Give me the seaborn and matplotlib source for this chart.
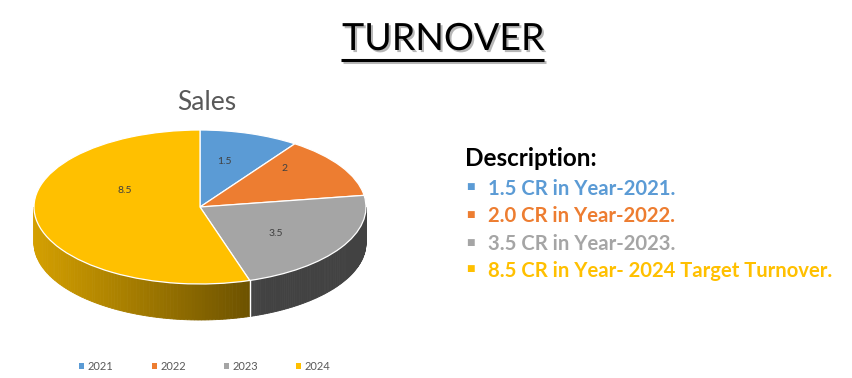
import numpy as np
import matplotlib
matplotlib.use('Agg')
import matplotlib.pyplot as plt
import matplotlib.patheffects as pe
from matplotlib.patches import Patch
import seaborn as sns

# data
years = ['2021', '2022', '2023', '2024']
sales = [1.5, 2, 3.5, 8.5]
value_labels = ['1.5', '2', '3.5', '8.5']
desc_lines = ['1.5 CR in Year-2021.', '2.0 CR in Year-2022.',
              '3.5 CR in Year-2023.', '8.5 CR in Year- 2024 Target Turnover.']
hex_colors = ['#5b9bd5', '#ed7d31', '#a5a5a5', '#ffc000']

sns.set_theme(style='white')
plt.rcParams['font.family'] = ['Lato', 'DejaVu Sans']
colors = sns.color_palette(hex_colors)

W, H = 852, 378
fig = plt.figure(figsize=(W / 100, H / 100), dpi=100)
fig.patch.set_facecolor('white')

# page axes in pixel units, for the text around the chart
bg = fig.add_axes([0, 0, 1, 1])
bg.set_xlim(0, W)
bg.set_ylim(H, 0)
bg.axis('off')

# pie axes: ellipse centre, radii and wall depth in pixels
cx, cy, rx, ry, depth = 200, 207, 166, 77, 36
d = depth / ry
x0, x1 = -1.02, 1.02
y0, y1 = -1 - d - 0.03, 1.02
ax = fig.add_axes([(cx + x0 * rx) / W, 1 - (cy - y0 * ry) / H,
                   (x1 - x0) * rx / W, (y1 - y0) * ry / H])

# side wall of the 3d pie (only the front half is visible)
total = sum(sales)
bounds = 90 - 360 * np.concatenate([[0], np.cumsum(sales)]) / total
for i in range(len(sales)):
    hi = min(bounds[i], 0)
    lo = max(bounds[i + 1], -180)
    if lo >= hi:
        continue
    ts = np.radians(np.linspace(hi, lo, 90))
    for ta, tb in zip(ts[:-1], ts[1:]):
        xm = (np.cos(ta) + np.cos(tb)) / 2
        f = max(0.4, 0.83 - 0.31 * (xm + 1))
        c = tuple(np.array(colors[i]) * f)
        ax.fill([np.cos(ta), np.cos(tb), np.cos(tb), np.cos(ta)],
                [np.sin(ta), np.sin(tb), np.sin(tb) - d, np.sin(ta) - d],
                color=c, ec=c, lw=0.6)
for b in bounds[1:-1]:
    if -180 < b < 0:
        t = np.radians(b)
        ax.plot([np.cos(t), np.cos(t)], [np.sin(t), np.sin(t) - d], color='white', lw=1)

# top face
wedges, _ = ax.pie(sales, colors=colors, startangle=90, counterclock=False, radius=1,
                   wedgeprops=dict(edgecolor='white', linewidth=0.9))
ax.set_aspect('auto')
ax.set_xlim(x0, x1)
ax.set_ylim(y0, y1)
ax.axis('off')

label_pos = [(0.145, 0.597), (0.506, 0.506), (0.458, -0.338), (-0.452, 0.208)]
for lab, (lx, ly) in zip(value_labels, label_pos):
    ax.text(lx, ly, lab, ha='center', va='center', fontsize=7.5, color='#404040')

# title
shadow = [pe.withSimplePatchShadow(offset=(1.5, -1.5), shadow_rgbFace='#888888', alpha=0.6)]
bg.text(443, 50, 'TURNOVER', ha='center', va='baseline', fontsize=27, color='black',
        path_effects=shadow)
bg.plot([341, 544], [60, 60], color='black', lw=2.2, solid_capstyle='butt',
        path_effects=[pe.SimpleLineShadow(offset=(1.5, -1.5), shadow_color='#888888', alpha=0.6),
                      pe.Normal()])

bg.text(207, 110.5, 'Sales', ha='center', va='baseline', fontsize=19, color='#595959')

# description
bg.text(465, 166, 'Description:', ha='left', va='baseline', fontsize=17.5,
        fontweight='bold', color='black')
baselines = [195, 222, 250, 277]
for line, c, yb in zip(desc_lines, hex_colors, baselines):
    bg.text(488, yb, line, ha='left', va='baseline', fontsize=14.6,
            fontweight='bold', color=c)
    bg.text(470, yb - 8, '\u25a0', ha='center', va='center', fontsize=6.5,
            family='DejaVu Sans', color=c)

# legend
handles = [Patch(facecolor=c, edgecolor='none') for c in colors]
fig.legend(handles, years, loc='center', bbox_to_anchor=(205 / W, 1 - 366 / H), ncol=4,
           frameon=False, prop={'size': 8}, labelcolor='#595959',
           handlelength=0.45, handleheight=0.45, handletextpad=0.3, columnspacing=3.45)

fig.savefig('out.png', dpi=100, facecolor='white')
